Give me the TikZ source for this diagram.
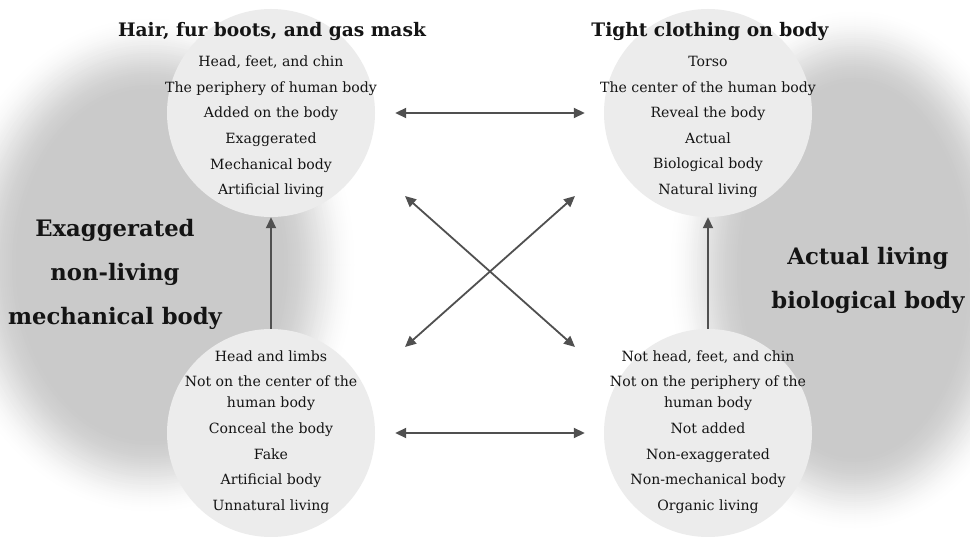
\documentclass[tikz,border=0pt]{standalone}
\usepackage{fontspec}
\setmainfont{DejaVu Serif}
\usetikzlibrary{arrows.meta}
\definecolor{plate}{RGB}{202,202,202}
\definecolor{discfill}{RGB}{236,236,236}
\definecolor{arr}{RGB}{80,80,80}
\definecolor{ink}{RGB}{20,20,20}
\begin{document}
\begin{tikzpicture}[x=1pt,y=-1pt,
  disc/.style={circle, fill=discfill, minimum size=208pt, inner sep=0pt},
  item/.style={align=center, text=ink, inner sep=0pt, font=\fontsize{14.1}{25.6}\selectfont},
  head/.style={text=ink, inner sep=0pt, font=\bfseries\fontsize{18.6}{22}\selectfont},
  big/.style={align=center, text=ink, inner sep=0pt, font=\bfseries\fontsize{22.7}{44}\selectfont},
  tip/.tip={Triangle[length=11pt,width=10pt]},
  link/.style={draw=arr, line width=1.8pt, -tip},
  twoway/.style={draw=arr, line width=1.8pt, tip-tip}
]
\useasboundingbox (0,0) rectangle (970,537);
\clip (0,0) rectangle (970,537);
\fill[white] (0,0) rectangle (970,537);
% soft grey regions
\foreach \i in {0,...,40}{
  \pgfmathsetmacro\d{40-2*\i}
  \pgfmathtruncatemacro\p{100*(3*(\i/40)^2-2*(\i/40)^3)}
  \pgfmathsetmacro\rxa{170+\d}
  \pgfmathsetmacro\rya{212+\d}
  \pgfmathsetmacro\rxb{150+\d}
  \pgfmathsetmacro\ryb{224+\d}
  \fill[plate!\p!white] (150,265) ellipse [x radius=\rxa pt, y radius=\rya pt];
  \fill[plate!\p!white] (855,270) ellipse [x radius=\rxb pt, y radius=\ryb pt];
}
% discs
\node[disc] (tl) at (271,113) {};
\node[disc] (tr) at (708,113) {};
\node[disc] (bl) at (271,433) {};
\node[disc] (br) at (708,433) {};
% headings
\node[head] (tlh) at (272,32) {Hair, fur boots, and gas mask};
\node[head] (trh) at (710,32) {Tight clothing on body};
% disc texts
\node[item] (tlt) at (271,127) {Head, feet, and chin\\The periphery of human body\\Added on the body\\Exaggerated\\Mechanical body\\Artificial living};
\node[item] (trt) at (708,127) {Torso\\The center of the human body\\Reveal the body\\Actual\\Biological body\\Natural living};
\node[item] (blt) at (271,432) {Head and limbs\\Not on the center of the\\[-4.6pt]human body\\Conceal the body\\Fake\\Artificial body\\Unnatural living};
\node[item] (brt) at (708,432) {Not head, feet, and chin\\Not on the periphery of the\\[-4.6pt]human body\\Not added\\Non-exaggerated\\Non-mechanical body\\Organic living};
% side labels
\node[big] (lbig) at (115,274) {Exaggerated\\non-living\\mechanical body};
\node[big] (rbig) at (868,280) {Actual living\\biological body};
% connectors
\coordinate (xa) at (405,196);
\coordinate (xb) at (575,347);
\coordinate (xc) at (575,196);
\coordinate (xd) at (405,347);
\draw[twoway, shorten <=20pt, shorten >=19pt] (tl) -- (tr);
\draw[twoway, shorten <=20pt, shorten >=19pt] (bl) -- (br);
\draw[twoway] (xa) -- (xb);
\draw[twoway] (xc) -- (xd);
\draw[link] (bl) -- (tl);
\draw[link] (br) -- (tr);
\end{tikzpicture}
\end{document}
